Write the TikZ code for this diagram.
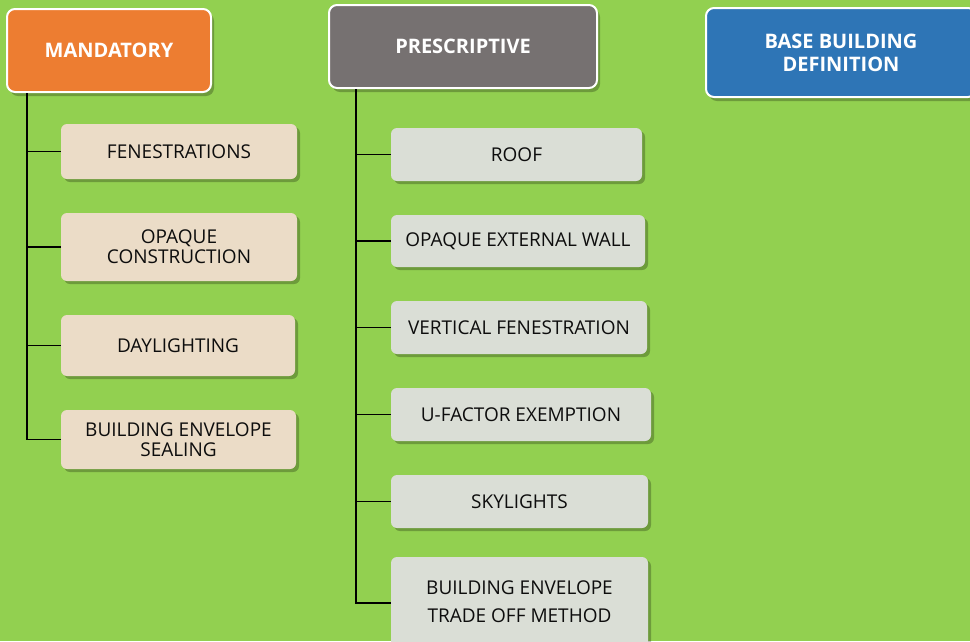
\documentclass[tikz,border=0pt]{standalone}
\usepackage{fontspec}
\setmainfont{Open Sans}
\usetikzlibrary{shadows}
\definecolor{bggreen}{HTML}{92D050}
\definecolor{morange}{HTML}{ED7D31}
\definecolor{pgray}{HTML}{767171}
\definecolor{bblue}{HTML}{2E75B6}
\definecolor{beige}{HTML}{EBDCC7}
\definecolor{lgray}{HTML}{DADED6}
\begin{document}
\begin{tikzpicture}[x=1pt,y=-1pt,
  hdr/.style={draw=white, line width=2pt, rounded corners=8pt, text=white,
    font=\fontsize{20}{23}\selectfont\bfseries, align=center, inner sep=0pt,
    drop shadow={shadow xshift=3pt, shadow yshift=-4pt, opacity=0.25, fill=black}},
  sub/.style={rounded corners=6pt, text=black!95, inner sep=0pt,
    font=\fontsize{19}{20}\selectfont, align=center,
    drop shadow={shadow xshift=3pt, shadow yshift=-3pt, opacity=0.25, fill=black}},
  mbox/.style={sub, fill=beige},
  pbox/.style={sub, fill=lgray},
  link/.style={line width=1.4pt, black}]
\useasboundingbox (0,0) rectangle (970,641);
\fill[bggreen] (0,0) rectangle (970,641);

% headers
\node[hdr, fill=morange, minimum width=204, minimum height=83] (mand) at (109,50.5) {MANDATORY};
\node[hdr, fill=pgray, minimum width=268, minimum height=83] (pres) at (463,46.5) {PRESCRIPTIVE};
\node[hdr, fill=bblue, minimum width=270, minimum height=89] (base) at (841,52.5) {BASE BUILDING\\DEFINITION};

% mandatory children
\node[mbox, minimum width=236, minimum height=55] (m1) at (179,151.5) {FENESTRATIONS};
\node[mbox, minimum width=236, minimum height=68] (m2) at (179,247) {OPAQUE\\CONSTRUCTION};
\node[mbox, minimum width=234, minimum height=61] (m3) at (178,345.5) {DAYLIGHTING};
\node[mbox, minimum width=235, minimum height=59] (m4) at (178.5,439.5) {BUILDING ENVELOPE\\SEALING};

% prescriptive children
\node[pbox, minimum width=251, minimum height=53] (p1) at (516.5,154.5) {ROOF};
\node[pbox, minimum width=254, minimum height=52] (p2) at (518,241) {OPAQUE EXTERNAL WALL};
\node[pbox, minimum width=256, minimum height=53] (p3) at (519,327.5) {VERTICAL FENESTRATION};
\node[pbox, minimum width=260, minimum height=53] (p4) at (521,414.5) {U-FACTOR EXEMPTION};
\node[pbox, minimum width=257, minimum height=53] (p5) at (519.5,501.5) {SKYLIGHTS};
\node[pbox, minimum width=257, minimum height=90, font=\fontsize{19}{28}\selectfont] (p6) at (519.5,602) {BUILDING ENVELOPE\\TRADE OFF METHOD};

% connectors mandatory
\coordinate (mt) at ([xshift=-82pt]mand.south);
\draw[link] (mt) |- (m4.west);
\foreach \n in {m1,m2,m3}{
  \draw[link] (mt |- \n.west) -- (\n.west);
}
% connectors prescriptive
\coordinate (pt) at ([xshift=-107pt]pres.south);
\draw[link] (pt) |- ([yshift=-1pt]p6.west);
\foreach \n in {p1,p2,p3,p4,p5}{
  \draw[link] (pt |- \n.west) -- (\n.west);
}
\end{tikzpicture}
\end{document}
